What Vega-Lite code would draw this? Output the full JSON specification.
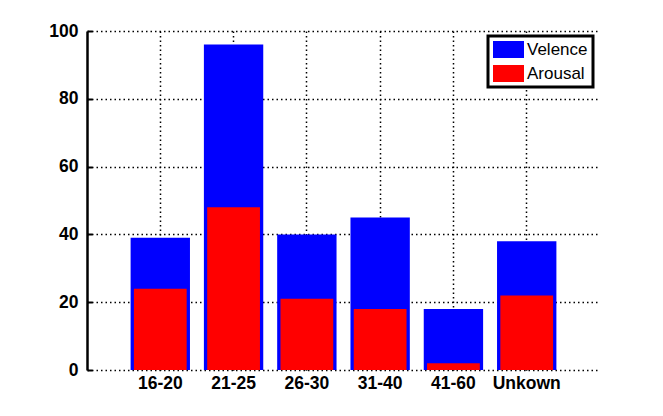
{
  "$schema": "https://vega.github.io/schema/vega-lite/v6.json",
  "width": 513,
  "height": 339,
  "autosize": {"type": "none"},
  "padding": {"left": 87, "top": 31, "right": 63, "bottom": 46},
  "background": "white",
  "config": {"view": {"stroke": null}, "font": "Liberation Sans"},
  "data": {
    "values": [
      {"age": "16-20", "Velence": 39, "Arousal": 24},
      {"age": "21-25", "Velence": 96, "Arousal": 48},
      {"age": "26-30", "Velence": 40, "Arousal": 21},
      {"age": "31-40", "Velence": 45, "Arousal": 18},
      {"age": "41-60", "Velence": 18, "Arousal": 2},
      {"age": "Unkown", "Velence": 38, "Arousal": 22}
    ]
  },
  "encoding": {
    "x": {
      "field": "age",
      "type": "nominal",
      "sort": null,
      "scale": {"paddingInner": 0, "paddingOuter": 0.5},
      "axis": {
        "title": null,
        "labelAngle": 0,
        "labelFont": "Liberation Sans",
        "labelFontWeight": "bold",
        "labelFontSize": 17.5,
        "labelColor": "black",
        "domain": false,
        "ticks": true,
        "tickSize": -5,
        "tickColor": "black",
        "tickWidth": 2,
        "labelPadding": 9,
        "grid": true,
        "gridColor": "black",
        "gridDash": [1.5, 3],
        "gridWidth": 1.5,
        "gridOpacity": 1
      }
    }
  },
  "layer": [
    {
      "mark": {"type": "bar", "width": {"band": 0.81}},
      "encoding": {
        "y": {
          "field": "Velence",
          "type": "quantitative",
          "scale": {"domain": [0, 100], "nice": false},
          "axis": {
            "title": null,
            "values": [0, 20, 40, 60, 80, 100],
            "labelFont": "Liberation Sans",
            "labelFontWeight": "bold",
            "labelFontSize": 17.5,
            "labelColor": "black",
            "domain": true,
            "domainColor": "black",
            "domainWidth": 2.5,
            "ticks": true,
            "tickSize": -5,
            "tickColor": "black",
            "tickWidth": 2,
            "labelPadding": 14,
            "grid": true,
            "gridColor": "black",
            "gridDash": [1.5, 3],
            "gridWidth": 1.5,
            "gridOpacity": 1
          }
        },
        "color": {
          "datum": "Velence",
          "type": "nominal",
          "scale": {"domain": ["Velence", "Arousal"], "range": ["#0000ff", "#ff0000"]},
          "legend": {
            "title": null,
            "orient": "none",
            "legendX": 401,
            "legendY": 5,
            "direction": "vertical",
            "strokeColor": "black",
            "fillColor": "white",
            "padding": 5,
            "symbolType": "M-1,-1H2.647V1H-1Z",
            "symbolSize": 289,
            "symbolStrokeWidth": 0,
            "symbolOpacity": 1,
            "labelFont": "Liberation Sans",
            "labelFontSize": 17,
            "labelColor": "black",
            "labelOffset": 17,
            "rowPadding": 6,
            "encode": {"legend": {"update": {"strokeWidth": {"value": 3}}}}
          }
        }
      }
    },
    {
      "mark": {"type": "bar", "width": {"band": 0.72}},
      "encoding": {
        "y": {"field": "Arousal", "type": "quantitative"},
        "color": {"datum": "Arousal", "type": "nominal"}
      }
    },
    {
      "mark": {"type": "rule", "color": "black", "strokeWidth": 2.5},
      "encoding": {"y": {"datum": 0}}
    }
  ]
}
